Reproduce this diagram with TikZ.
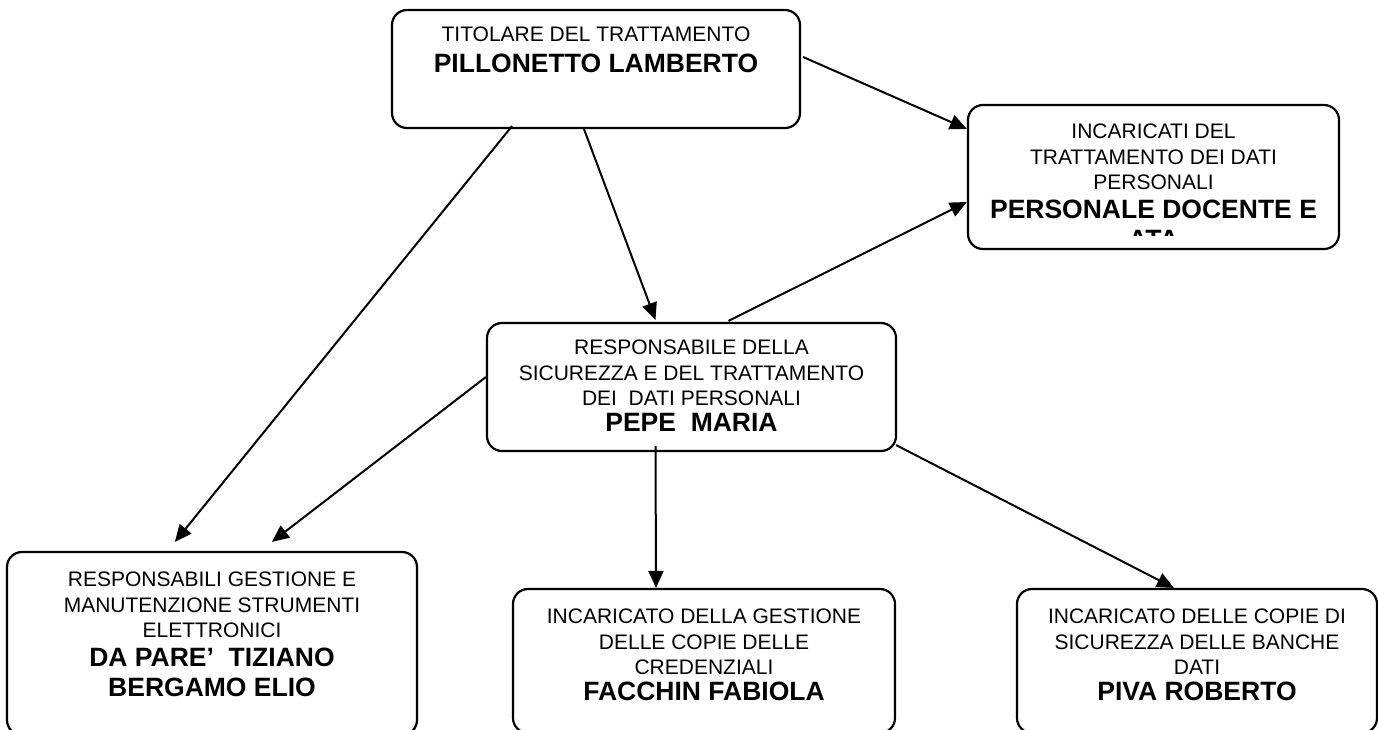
\documentclass[tikz,border=0pt]{standalone}
\usepackage{fontspec}
\setmainfont{Liberation Sans}
\usetikzlibrary{arrows.meta,calc}
\tikzset{
  box/.style={draw, line width=2.2pt, rounded corners=15pt},
  reg/.style={font=\fontsize{21}{25.3}\selectfont, align=center, inner sep=0pt},
  bld/.style={font=\fontsize{26.5}{29.5}\selectfont\bfseries, align=center, inner sep=0pt},
  link/.style={line width=2pt, -{Triangle[length=17pt,width=15pt]}}
}
\begin{document}
\begin{tikzpicture}[x=1pt,y=-1pt]
  \useasboundingbox (0,0) rectangle (1378,729);
  \clip (0,0) rectangle (1378,729);
  \node[box, minimum width=408, minimum height=118] (titolare) at (596,69) {};
  \node[box, minimum width=371, minimum height=144] (incaricati) at (1153.5,177) {};
  \node[box, minimum width=409, minimum height=128] (pepe) at (691.5,387) {};
  \node[box, minimum width=410, minimum height=183] (gestione) at (212,643.5) {};
  \node[box, minimum width=382, minimum height=144] (facchin) at (704,661) {};
  \node[box, minimum width=360, minimum height=144] (piva) at (1197,661) {};

  \node[reg, anchor=base] (titolare-r) at ($(titolare.north)+(0,32.5)$) {TITOLARE DEL TRATTAMENTO};
  \node[bld, anchor=base] (titolare-b) at ($(titolare.north)+(0,64)$) {PILLONETTO LAMBERTO};

  \node[reg, anchor=north] (incaricati-r) at ($(incaricati.north)+(0,20)$) {INCARICATI DEL\\TRATTAMENTO DEI DATI\\PERSONALI};
  \begin{scope}
    \clip ($(incaricati.north west)+(10,0)$) rectangle ($(incaricati.north east)+(-10,132)$);
    \node[bld, anchor=north] (incaricati-b) at ($(incaricati.north)+(0,96)$) {PERSONALE DOCENTE E\\ATA};
  \end{scope}

  \node[reg, anchor=north] (pepe-r) at ($(pepe.north)+(0,18)$) {RESPONSABILE DELLA\\SICUREZZA E DEL TRATTAMENTO\\DEI\ \ DATI PERSONALI};
  \node[bld, anchor=base] (pepe-b) at ($(pepe.north)+(0,110)$) {PEPE\ \ MARIA};

  \node[reg, anchor=north] (gestione-r) at ($(gestione.north)+(0,21)$) {RESPONSABILI GESTIONE E\\MANUTENZIONE STRUMENTI\\ELETTRONICI};
  \node[bld, anchor=north] (gestione-b) at ($(gestione.north)+(0,97)$) {DA PARE’\ \ TIZIANO\\BERGAMO ELIO};

  \node[reg, anchor=north] (facchin-r) at ($(facchin.north)+(0,21)$) {INCARICATO DELLA GESTIONE\\DELLE COPIE DELLE\\CREDENZIALI};
  \node[bld, anchor=base] (facchin-b) at ($(facchin.north)+(0,113)$) {FACCHIN FABIOLA};

  \node[reg, anchor=north] (piva-r) at ($(piva.north)+(0,21)$) {INCARICATO DELLE COPIE DI\\SICUREZZA DELLE BANCHE\\DATI};
  \node[bld, anchor=base] (piva-b) at ($(piva.north)+(0,113)$) {PIVA ROBERTO};

  \draw[link] ($(titolare.east)+(2,-12)$) -- ($(incaricati.west)+(0,-48)$);
  \draw[link] ($(titolare.south)+(-84,-3)$) -- ($(gestione.north west)+(169,-9)$);
  \draw[link] ($(titolare.south)+(-12,0)$) -- ($(pepe.north)+(-36,-2)$);
  \draw[link] ($(pepe.north)+(37,-1)$) -- ($(incaricati.west)+(0,25)$);
  \draw[link] ($(pepe.west)+(0,-10)$) -- ($(gestione.north west)+(266,-9)$);
  \draw[link] ($(pepe.south)+(-36,-6)$) -- ($(facchin.north)+(-48,0)$);
  \draw[link] ($(pepe.south east)+(-1,-7)$) -- ($(piva.north west)+(158,0)$);
\end{tikzpicture}
\end{document}
